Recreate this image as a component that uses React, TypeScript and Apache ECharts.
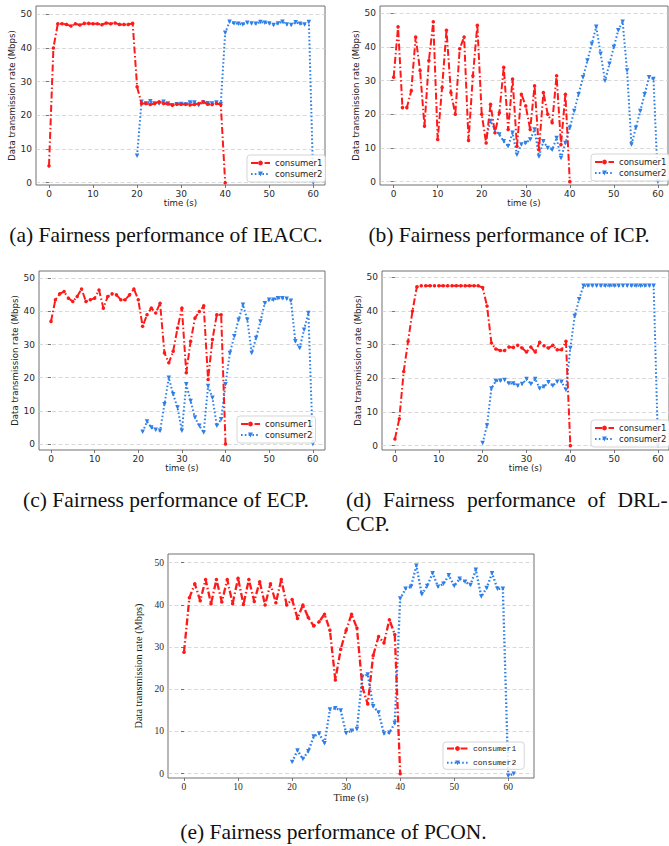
import React, { useEffect, useRef } from 'react';
import * as echarts from 'echarts';

// ---------- data ----------
const X_TICKS = [0, 10, 20, 30, 40, 50, 60];
const Y_TICKS = [0, 10, 20, 30, 40, 50];
const SERIES_NAMES = ['consumer1', 'consumer2'];
const X_NAMES = ['time (s)', 'time (s)', 'time (s)', 'time (s)', 'Time (s)'];
const Y_NAME = 'Data transmission rate (Mbps)';

// (a) IEACC
const A_C1_START = 0;
const A_C1 = [5, 40, 47.2, 47.2, 47.0, 46.5, 47.2, 46.8, 47.3, 47.3, 47.2, 47.2, 46.9, 47.4, 47.2, 47.4, 47.0, 47.0, 47.0, 47.3,
  28.5, 23.5, 23.5, 23.2, 23.5, 24.0, 23.5, 23.4, 23.0, 23.3, 23.3, 23.3, 23.1, 23.2, 23.5, 24.0, 23.3, 23.2, 23.5, 23.2, 0];
const A_C2_START = 20;
const A_C2 = [8, 24, 23.5, 24.2, 23.5, 23.5, 24, 23.5, 23.0, 23.3, 23.4, 23.2, 23.8, 23.8, 23.0, 23.8, 23.6, 23.5, 23.8, 23.4,
  44.5, 47.8, 47.3, 47.2, 47.0, 47.5, 47.3, 47.2, 47.7, 47.5, 47.3, 46.8, 47.3, 47.8, 47.0, 46.8, 47.6, 47.2, 47.0, 47.7, 0];

// (b) ICP
const B_C1_START = 0;
const B_C1 = [31, 46, 22, 22, 27, 43, 33, 16.5, 36, 47.5, 12.5, 28, 45, 26.5, 20, 39.5, 43, 12.2, 31.5, 46.5,
  20, 11.5, 23, 14.5, 20.5, 34, 15.5, 30.5, 10.5, 26, 22.5, 15.5, 28.5, 9.5, 26.5, 20, 17.5, 31.5, 11, 26, 0];
const B_C2_START = 21;
const B_C2 = [13, 18, 15.5, 14, 12, 10.5, 14.5, 8, 11, 11.5, 12.5, 15.5, 7.5, 12, 10, 9.5, 13, 7, 11.5,
  16, 21, 26, 31, 36, 41, 46, 38, 30, 35, 40, 45, 47.5, 33, 11, 16, 21, 26, 31, 30.5, 0];

// (c) ECP
const C_C1_START = 0;
const C_C1 = [37, 43.5, 45.3, 46, 44, 43, 44.5, 46.8, 43, 43.5, 44, 46.5, 41, 44.5, 45.3, 45, 43.5, 43.5, 45, 46.8,
  43.5, 35.5, 39, 41, 39.5, 42.5, 27.5, 24.5, 28, 35, 41, 21.5, 31, 38, 40, 41.7, 19.5, 31.5, 39, 39, 0];
const C_C2_START = 21;
const C_C2 = [3.7, 6.8, 5, 4.3, 4, 12, 20, 15, 11, 4, 18, 13, 8, 5.5, 3.5, 17.5, 14, 5.5, 7.5,
  18, 27.5, 32.5, 37.5, 42, 37.5, 27.5, 32, 37, 42.5, 43.5, 43.5, 44, 44, 43.8, 43.2, 31, 29, 34.5, 39.5, 0];

// (d) DRL-CCP
const D_C1_START = 0;
const D_C1 = [2, 8, 22, 31, 40, 47.2, 47.5, 47.5, 47.5, 47.5, 47.5, 47.5, 47.5, 47.5, 47.5, 47.5, 47.5, 47.5, 47.5, 47.5,
  47, 41.5, 30.5, 28.7, 28.3, 28.3, 29.3, 29.2, 29.8, 29, 27.8, 29.3, 27.8, 30.7, 29.7, 29, 29.8, 28.5, 28.5, 31, 0];
const D_C2_START = 20;
const D_C2 = [0.8, 6, 17, 19.2, 19.3, 19.5, 18.5, 18.5, 17.8, 18.3, 19.8, 18.3, 19.8, 17, 17.5, 18.8, 17.8, 19, 19, 16.5,
  29, 38.5, 43.5, 47.5, 47.5, 47.5, 47.5, 47.5, 47.5, 47.5, 47.5, 47.5, 47.5, 47.5, 47.5, 47.5, 47.5, 47.5, 47.5, 47.5, 0];

// (e) PCON
const E_C1_START = 0;
const E_C1 = [28.8, 41.7, 45, 41, 46, 40.3, 46, 40.7, 46, 40.3, 46.3, 40.1, 46, 40.8, 45.5, 40, 45, 40.5, 46, 40,
  41.3, 36.8, 40, 37, 35, 36, 37.8, 34, 22.2, 29.5, 34, 37.8, 34.5, 20.5, 16.5, 28, 32.5, 31, 36.5, 33, 0];
const E_C2_START = 20;
const E_C2 = [2.8, 5.5, 3.5, 5.3, 8.8, 9.5, 7.2, 15.2, 15.5, 15, 9.6, 10.2, 10.6, 23, 23.5, 16, 14.5, 9.5, 9.7, 12,
  41.5, 43.8, 44.3, 49.3, 42.5, 44.5, 47.5, 44.3, 45, 47, 44.5, 46.2, 45.5, 44.7, 48.3, 42, 44, 47.5, 43.8, 43.8, -0.5, 0];

const PANEL_DATA = [
  { c1: A_C1, c1Start: A_C1_START, c2: A_C2, c2Start: A_C2_START },
  { c1: B_C1, c1Start: B_C1_START, c2: B_C2, c2Start: B_C2_START },
  { c1: C_C1, c1Start: C_C1_START, c2: C_C2, c2Start: C_C2_START },
  { c1: D_C1, c1Start: D_C1_START, c2: D_C2, c2Start: D_C2_START },
  { c1: E_C1, c1Start: E_C1_START, c2: E_C2, c2Start: E_C2_START },
];

// ---------- layout / styles ----------
const RED = '#ff1a1a';
const BLUE = '#2f7fe8';
const SANS = 'DejaVu Sans';
const SERIF = 'Liberation Serif';
const MONO = 'Liberation Mono';

const LAYOUT = [
  { left: 36, top: 6, width: 289, height: 179, x: [-2.95, 62.66], y: [-0.68, 52.46], yGap: 16, xGap: 12, lg: [247, 155], serif: false },
  { left: 380, top: 6, width: 288, height: 179, x: [-3.1, 62.3], y: [-1.0, 52.2], yGap: 15.5, xGap: 12, lg: [591, 154], serif: false },
  { left: 39, top: 271, width: 286, height: 179, x: [-2.75, 62.8], y: [-1.8, 52.2], yGap: 18.5, xGap: 12, lg: [237, 416], serif: false },
  { left: 382, top: 271, width: 287, height: 179, x: [-2.95, 62.5], y: [-1.3, 51.9], yGap: 16, xGap: 12, lg: [591, 420], serif: false },
  { left: 168, top: 554, width: 366, height: 224, x: [-2.96, 64.76], y: [-1.02, 52.06], yGap: 17, xGap: 14, lg: [443, 742], serif: true },
];

const CAP_FONT = 21.5;

function buildOption() {
  const grid = LAYOUT.map((p) => ({
    left: p.left, top: p.top, width: p.width, height: p.height,
    show: true, borderColor: '#707070', borderWidth: 1, backgroundColor: 'transparent',
  }));
  const xAxis = LAYOUT.map((p, i) => ({
    type: 'value', gridIndex: i, min: p.x[0], max: p.x[1], splitNumber: 6,
    name: X_NAMES[i], nameLocation: 'middle', nameGap: p.xGap,
    nameTextStyle: { fontFamily: p.serif ? SERIF : SANS, fontSize: p.serif ? 10.3 : 8.6, color: '#222' },
    axisLine: { show: false, onZero: false },
    axisTick: { show: true, inside: false, length: 3, customValues: X_TICKS, lineStyle: { color: '#555', width: 0.8 } },
    axisLabel: { customValues: X_TICKS, margin: 4, fontFamily: p.serif ? SERIF : SANS, fontSize: p.serif ? 9.5 : 9, color: '#2a2a2a' },
    splitLine: { show: false },
  }));
  const yAxis = LAYOUT.map((p, i) => ({
    type: 'value', gridIndex: i, min: p.y[0], max: p.y[1], splitNumber: 5,
    name: Y_NAME, nameLocation: 'middle', nameGap: p.yGap,
    nameTextStyle: { fontFamily: p.serif ? SERIF : SANS, fontSize: p.serif ? 10.3 : 8.6, color: '#222' },
    axisLine: { show: false },
    axisTick: { show: true, inside: false, length: 3, customValues: Y_TICKS, lineStyle: { color: '#555', width: 0.8 } },
    axisLabel: { customValues: Y_TICKS, margin: 4, fontFamily: p.serif ? SERIF : SANS, fontSize: p.serif ? 9.5 : 9, color: '#2a2a2a' },
    splitLine: { show: true, lineStyle: { color: '#cfcfcf', width: 0.8, type: [4, 2.5] } },
  }));
  const series: any[] = [];
  PANEL_DATA.forEach((d, i) => {
    const lw = LAYOUT[i].serif ? 2.3 : 2;
    series.push({
      type: 'line', name: SERIES_NAMES[0], xAxisIndex: i, yAxisIndex: i,
      data: d.c1.map((v, k) => [d.c1Start + k, v]),
      symbol: 'circle', symbolSize: 3.5, showSymbol: true,
      lineStyle: { color: RED, width: lw, type: [7, 2.5, 1.5, 2.5] },
      itemStyle: { color: RED },
      emphasis: { disabled: true }, silent: true, z: 3,
    });
    series.push({
      type: 'line', name: SERIES_NAMES[1], xAxisIndex: i, yAxisIndex: i,
      data: d.c2.map((v, k) => [d.c2Start + k, v]),
      symbol: 'triangle', symbolRotate: 180, symbolSize: 4.5, showSymbol: true,
      lineStyle: { color: BLUE, width: lw, type: [1.6, 2.2] },
      itemStyle: { color: BLUE },
      emphasis: { disabled: true }, silent: true, z: 2,
    });
  });
  const legend = LAYOUT.map((p) => ({
    orient: 'vertical', left: p.lg[0], top: p.lg[1], data: SERIES_NAMES,
    itemWidth: p.serif ? 21 : 19, itemHeight: 6, itemGap: p.serif ? 3.3 : 1, itemTextGap: p.serif ? 9 : 5,
    padding: p.serif ? [1, 8, 1, 3] : [3, 3, 3, 3],
    borderColor: '#d5d5d5', borderWidth: 1, borderRadius: 3, backgroundColor: 'rgba(255,255,255,0.85)',
    selectedMode: false,
    textStyle: { fontFamily: p.serif ? MONO : SANS, fontSize: p.serif ? 8 : 8.5, lineHeight: p.serif ? 11 : 10, color: '#222' },
  }));
  const capStyle = (text: string, x: number, y: number, align: string) => ({
    type: 'text', x, y, silent: true,
    style: { text, fontFamily: SERIF, fontSize: CAP_FONT, fill: '#111', align, verticalAlign: 'middle' },
  });
  const graphic = [
    capStyle('(a) Fairness performance of IEACC.', 166, 235, 'center'),
    capStyle('(b) Fairness performance of ICP.', 509, 235, 'center'),
    capStyle('(c) Fairness performance of ECP.', 166, 500, 'center'),
    capStyle('(d)', 346, 500, 'left'),
    capStyle('Fairness', 383, 500, 'left'),
    capStyle('performance', 467, 500, 'left'),
    capStyle('of', 587.5, 500, 'left'),
    capStyle('DRL-', 617.5, 500, 'left'),
    capStyle('CCP.', 346, 524, 'left'),
    capStyle('(e) Fairness performance of PCON.', 333.5, 832, 'center'),
  ];
  return { animation: false, grid, xAxis, yAxis, series, legend, graphic };
}

export default function App() {
  const ref = useRef<HTMLDivElement>(null);
  useEffect(() => {
    document.body.style.margin = '0';
    if (!ref.current) return;
    const chart = echarts.init(ref.current, undefined, { renderer: 'svg' });
    chart.setOption(buildOption() as any);
    return () => chart.dispose();
  }, []);
  return <div ref={ref} style={{ position: 'absolute', left: 0, top: 0, width: 669, height: 846, background: '#fff' }} />;
}
